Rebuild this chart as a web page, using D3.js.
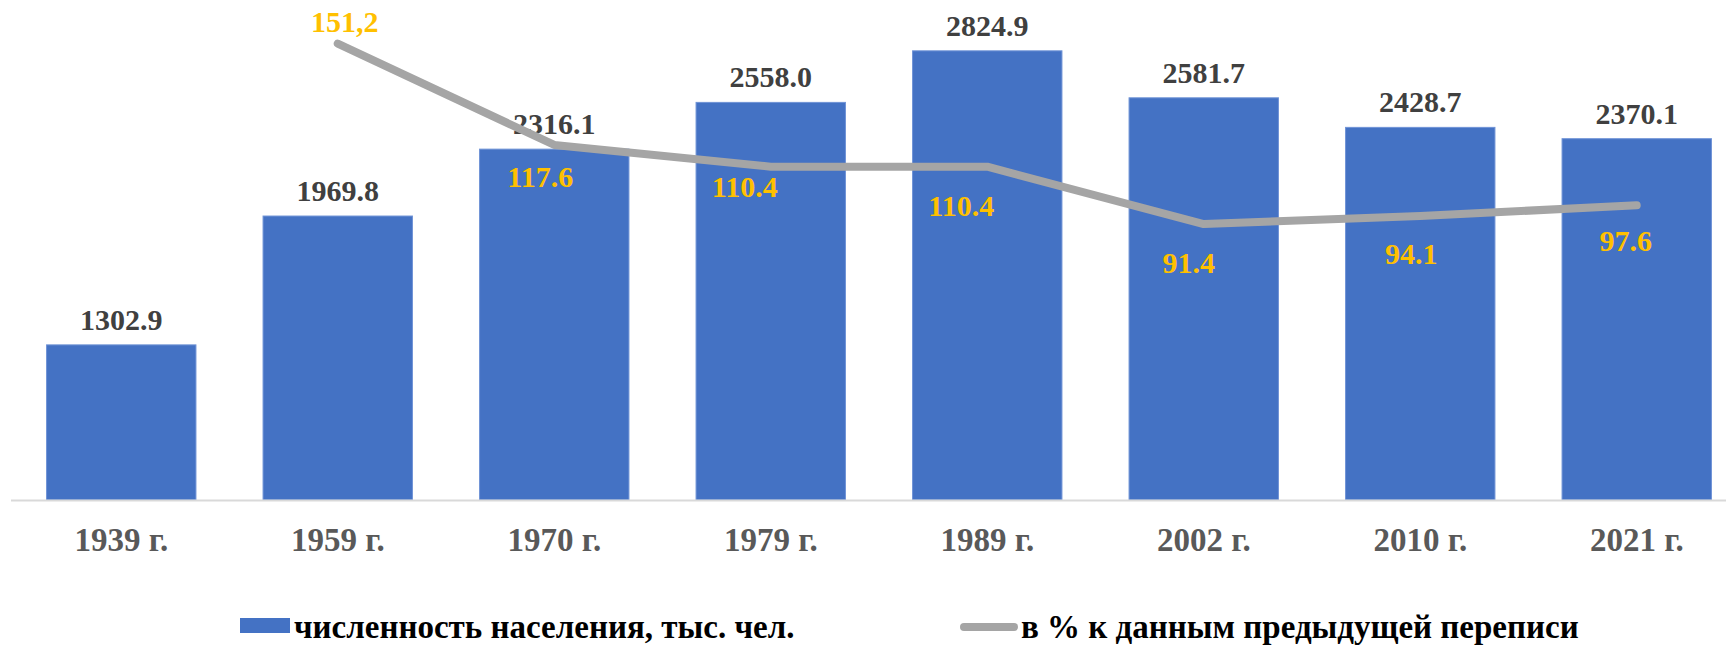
<!DOCTYPE html>
<html>
<head>
<meta charset="utf-8">
<script src="https://cdn.jsdelivr.net/npm/d3@7"></script>
<style>
  body { margin: 0; background: #fff; }
  svg { display: block; }
  text { font-family: "Liberation Serif", "Tinos", "Times New Roman", "DejaVu Serif", serif; font-weight: bold; }
  .bar-lbl { fill: #404040; font-size: 30px; }
  .pct-lbl { fill: #ffc000; font-size: 30px; }
  .tick-lbl { fill: #595959; font-size: 33px; }
  .legend-lbl { fill: #000; font-size: 33px; }
</style>
</head>
<body>
<svg id="chart"></svg>
<script>
// ── Data ───────────────────────────────────────────────────────────────────
const years      = ["1939 г.", "1959 г.", "1970 г.", "1979 г.", "1989 г.", "2002 г.", "2010 г.", "2021 г."];
const population = [1302.9, 1969.8, 2316.1, 2558.0, 2824.9, 2581.7, 2428.7, 2370.1];
const popLabels  = ["1302.9", "1969.8", "2316.1", "2558.0", "2824.9", "2581.7", "2428.7", "2370.1"];
const pctChange  = [null, 151.2, 117.6, 110.4, 110.4, 91.4, 94.1, 97.6];
const pctLabels  = ["", "151,2", "117.6", "110.4", "110.4", "91.4", "94.1", "97.6"];
const legendNames = ["численность населения, тыс. чел.", "в % к данным предыдущей переписи"];

// manual label nudges (dx, dy) for the % labels, like in the original
const pctNudge = [[0, 0], [7, -12], [-14, 42], [-26, 30], [-26, 49], [-15, 49], [-9, 48], [-11, 46]];

// ── Layout ─────────────────────────────────────────────────────────────────
const VW = 1726, VH = 646;
const X0 = 13, X1 = 1745;        // category band range (last band runs off the edge)
const BASE = 500, TOP = 17;
const FONT = "'Liberation Serif', Tinos, 'Times New Roman', serif";

const svg = d3.select("#chart").attr("width", VW).attr("height", VH)
  .attr("font-family", FONT);

const x  = d3.scaleBand().domain(years).range([X0, X1]).paddingInner(0.31).paddingOuter(0.155);
const y  = d3.scaleLinear().domain([500, 3000]).range([BASE, TOP]);
const y2 = d3.scaleLinear().domain([0, 160]).range([BASE, TOP]);

const rows = years.map((yr, i) => ({
  yr, pop: population[i], popLbl: popLabels[i],
  pct: pctChange[i], pctLbl: pctLabels[i], nudge: pctNudge[i]
}));

// Bars
svg.append("g").selectAll("rect")
  .data(rows)
  .join("rect")
  .attr("x", d => x(d.yr))
  .attr("y", d => y(d.pop))
  .attr("width", x.bandwidth())
  .attr("height", d => BASE - y(d.pop))
  .attr("fill", "#4472c4")
  .attr("stroke", "#6f93d6").attr("stroke-width", 1);

// Category axis
const xAxis = svg.append("g").attr("transform", `translate(0,${BASE})`)
  .call(d3.axisBottom(x).tickSize(0).tickPadding(0))
  .attr("font-family", FONT).attr("font-size", null);
xAxis.select(".domain").attr("d", `M11,0.5H${VW}`).attr("stroke", "#d9d9d9").attr("stroke-width", 2);
xAxis.selectAll("text").attr("class", "tick-lbl")
  .attr("fill", null).attr("dy", null).attr("y", 51);

// Bar value labels
svg.append("g").selectAll("text")
  .data(rows)
  .join("text").attr("class", "bar-lbl")
  .attr("x", d => x(d.yr) + x.bandwidth() / 2)
  .attr("y", d => y(d.pop) - 15)
  .attr("text-anchor", "middle")
  .text(d => d.popLbl);

// Line (% of previous census)
const pts  = rows.filter(d => d.pct != null);
const line = d3.line()
  .x(d => x(d.yr) + x.bandwidth() / 2)
  .y(d => y2(d.pct));

svg.append("path")
  .datum(pts)
  .attr("d", line)
  .attr("fill", "none")
  .attr("stroke", "#a5a5a5")
  .attr("stroke-width", 8)
  .attr("stroke-linecap", "round")
  .attr("stroke-linejoin", "round");

svg.append("g").selectAll("text")
  .data(pts)
  .join("text").attr("class", "pct-lbl")
  .attr("x", d => x(d.yr) + x.bandwidth() / 2 + d.nudge[0])
  .attr("y", d => y2(d.pct) + d.nudge[1])
  .attr("text-anchor", "middle")
  .text(d => d.pctLbl);

// Legend
const leg = svg.append("g");
leg.append("rect")
  .attr("x", 240).attr("y", 618).attr("width", 50).attr("height", 15)
  .attr("fill", "#4472c4");
leg.append("text").attr("class", "legend-lbl")
  .attr("x", 294).attr("y", 638).text(legendNames[0]);

leg.append("line")
  .attr("x1", 964).attr("x2", 1014).attr("y1", 627).attr("y2", 627)
  .attr("stroke", "#a5a5a5").attr("stroke-width", 8).attr("stroke-linecap", "round");
leg.append("text").attr("class", "legend-lbl")
  .attr("x", 1021).attr("y", 638).text(legendNames[1]);
</script>
</body>
</html>
